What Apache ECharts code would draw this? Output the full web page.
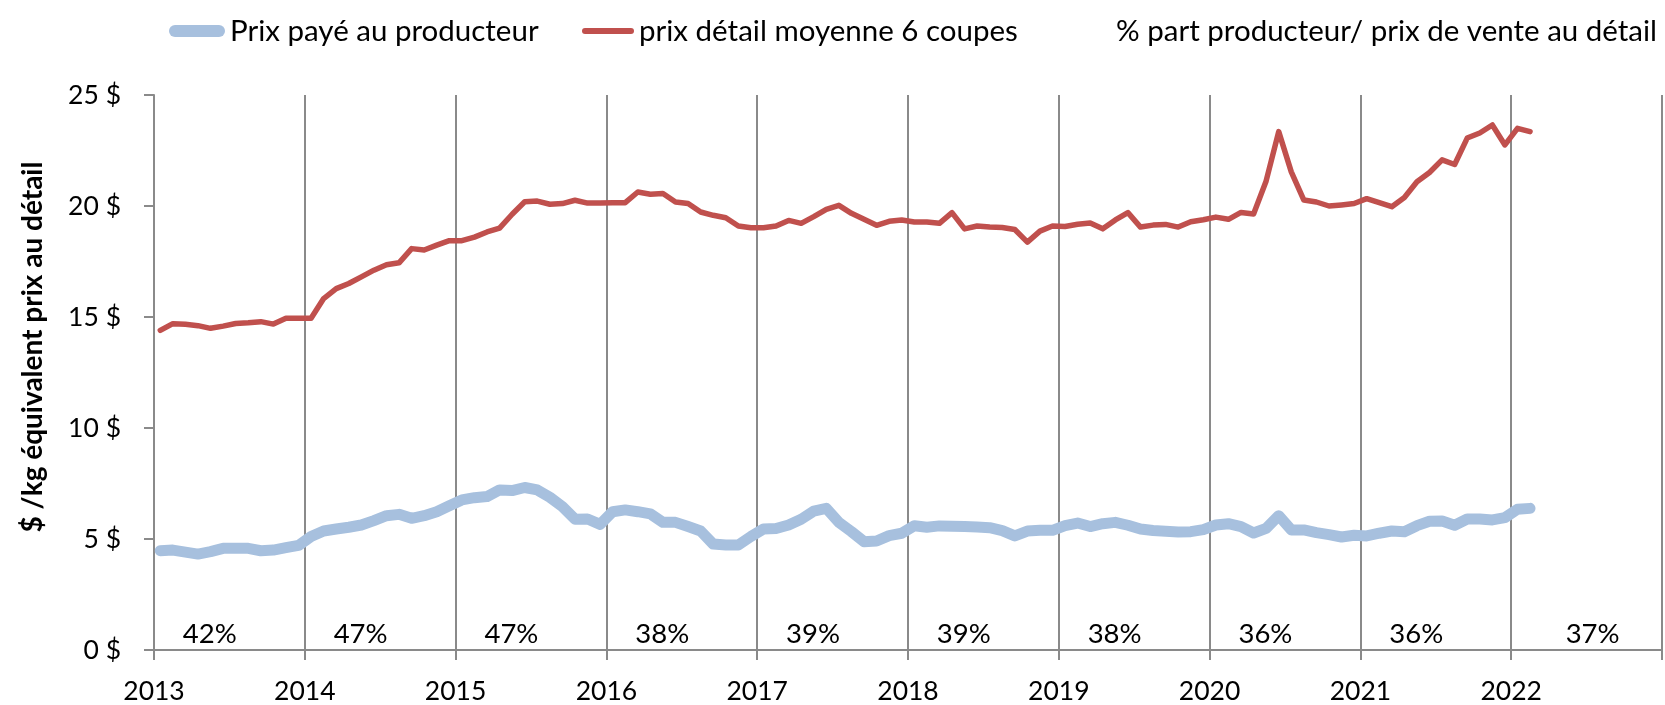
<!DOCTYPE html>
<html>
<head>
<meta charset="utf-8">
<script src="https://cdn.jsdelivr.net/npm/echarts@6/dist/echarts.min.js"></script>
<style>
  html, body { margin: 0; padding: 0; background: #ffffff; }
  #chart { width: 1665px; height: 705px; }
</style>
</head>
<body>
<div id="chart"></div>
<script>
// Monthly series, January 2013 to February 2022 ($ per kg, retail equivalent)
const startYear = 2013;

const producerPrice = [
  4.47, 4.50, 4.41, 4.32, 4.43, 4.58, 4.58, 4.58, 4.47, 4.50, 4.61, 4.71,
  5.11, 5.36, 5.45, 5.53, 5.63, 5.83, 6.05, 6.11, 5.93, 6.05, 6.23, 6.50,
  6.76, 6.86, 6.91, 7.21, 7.18, 7.32, 7.21, 6.88, 6.46, 5.89, 5.90, 5.66,
  6.23, 6.31, 6.23, 6.13, 5.75, 5.75, 5.56, 5.36, 4.77, 4.73, 4.73, 5.11,
  5.45, 5.47, 5.63, 5.89, 6.26, 6.38, 5.75, 5.33, 4.88, 4.91, 5.15, 5.26,
  5.60, 5.53, 5.59, 5.57, 5.56, 5.54, 5.51, 5.38, 5.14, 5.36, 5.39, 5.39,
  5.60, 5.72, 5.56, 5.69, 5.75, 5.62, 5.45, 5.38, 5.35, 5.32, 5.33, 5.42,
  5.63, 5.69, 5.56, 5.27, 5.48, 6.05, 5.41, 5.41, 5.29, 5.20, 5.09, 5.17,
  5.14, 5.26, 5.36, 5.33, 5.60, 5.80, 5.81, 5.62, 5.90, 5.90, 5.86, 5.96,
  6.34, 6.38
];

const retailPrice = [
  14.40, 14.70, 14.67, 14.61, 14.49, 14.59, 14.71, 14.74, 14.79, 14.68, 14.94, 14.94,
  14.94, 15.83, 16.28, 16.51, 16.81, 17.11, 17.35, 17.44, 18.08, 18.02, 18.24, 18.44,
  18.44, 18.60, 18.83, 19.00, 19.63, 20.19, 20.22, 20.08, 20.11, 20.26, 20.13, 20.13,
  20.15, 20.15, 20.63, 20.53, 20.56, 20.18, 20.11, 19.73, 19.58, 19.47, 19.10, 19.02,
  19.02, 19.10, 19.35, 19.22, 19.52, 19.85, 20.03, 19.67, 19.40, 19.13, 19.31, 19.37,
  19.28, 19.28, 19.22, 19.70, 18.97, 19.10, 19.05, 19.03, 18.94, 18.37, 18.87, 19.10,
  19.08, 19.18, 19.23, 18.97, 19.37, 19.70, 19.05, 19.14, 19.17, 19.05, 19.29, 19.38,
  19.50, 19.40, 19.71, 19.64, 21.13, 23.35, 21.54, 20.27, 20.18, 20.00, 20.05, 20.11,
  20.33, 20.15, 19.97, 20.38, 21.09, 21.51, 22.08, 21.87, 23.06, 23.29, 23.65, 22.75,
  23.50, 23.35
];

// Producer share of the retail price, by year
const shareYears = [2013, 2014, 2015, 2016, 2017, 2018, 2019, 2020, 2021, 2022];
const sharePercent = [42, 47, 47, 38, 39, 39, 38, 36, 36, 37];

const seriesNames = [
  'Prix payé au producteur',
  'prix détail moyenne 6 coupes',
  '% part producteur/ prix de vente au détail'
];
const yAxisTitle = '$ /kg équivalent prix au détail';

// ---- presentation ----
const FONT = 'Lato, "Open Sans", sans-serif';
const BLUE = '#A7C0DE';
const RED = '#C0504D';
const GRID_GRAY = '#8A8A8A';

// months are plotted at the middle of each month on a year scale
const monthPos = i => startYear + (i + 0.5) / 12;
const toPoints = arr => arr.map((v, i) => [monthPos(i), v]);

// share labels sit in the lower band of each year (the last, partial year is centred further in)
const shareLevel = 0.72;
const sharePoints = sharePercent.map((p, i) => {
  const y = shareYears[i];
  const offset = y === 2022 ? 0.54 : 0.37;
  return [y + offset, shareLevel, p];
});

const chart = echarts.init(document.getElementById('chart'), null, { renderer: 'canvas' });

const legendText = { fontSize: 29.5, color: '#000', fontFamily: FONT };

chart.setOption({
  animation: false,
  backgroundColor: '#ffffff',
  grid: { left: 154, top: 95, width: 1513, height: 557, containLabel: false },
  legend: [
    {
      left: 164, top: 11, itemWidth: 56, itemHeight: 12, selectedMode: false,
      itemStyle: { borderWidth: 0 },
      textStyle: legendText,
      data: [{ name: seriesNames[0], icon: 'path://M6,0 L50,0 A6,6 0 0 1 50,12 L6,12 A6,6 0 0 1 6,0 Z' }]
    },
    {
      left: 577, top: 11, itemWidth: 52, itemHeight: 6, selectedMode: false,
      itemStyle: { borderWidth: 0 },
      textStyle: legendText,
      data: [{ name: seriesNames[1], icon: 'path://M3,0 L49,0 A3,3 0 0 1 49,6 L3,6 A3,3 0 0 1 3,0 Z' }]
    },
    {
      left: 1105, top: 11, itemWidth: 1, itemHeight: 6, selectedMode: false,
      textStyle: legendText,
      data: [{ name: seriesNames[2], icon: 'none' }]
    }
  ],
  xAxis: {
    type: 'value',
    min: 2013, max: 2023, interval: 1,
    axisLine: { show: true, onZero: true, lineStyle: { color: GRID_GRAY, width: 2 } },
    axisTick: { show: true, length: 10, lineStyle: { color: GRID_GRAY, width: 2 } },
    splitLine: { show: true, lineStyle: { color: GRID_GRAY, width: 2 } },
    axisLabel: {
      formatter: v => (v < 2023 ? String(v) : ''),
      fontSize: 26.5, color: '#000', fontFamily: FONT, margin: 28
    }
  },
  yAxis: {
    type: 'value',
    min: 0, max: 25, interval: 5,
    axisLine: { show: true, onZero: false, lineStyle: { color: GRID_GRAY, width: 2 } },
    axisTick: { show: true, length: 10, lineStyle: { color: GRID_GRAY, width: 2 } },
    splitLine: { show: false },
    axisLabel: {
      formatter: v => v + ' $',
      fontSize: 26.5, color: '#000', fontFamily: FONT, margin: 33
    }
  },
  graphic: [
    {
      type: 'text',
      x: 33, y: 347,
      rotation: Math.PI / 2,
      style: {
        text: yAxisTitle,
        font: 'bold 28px ' + FONT,
        fill: '#000',
        align: 'center',
        verticalAlign: 'middle'
      }
    }
  ],
  series: [
    {
      name: seriesNames[0],
      type: 'line',
      data: toPoints(producerPrice),
      symbol: 'none',
      showSymbol: false,
      itemStyle: { color: BLUE },
      lineStyle: { color: BLUE, width: 11, cap: 'round', join: 'round' },
      z: 3
    },
    {
      name: seriesNames[1],
      type: 'line',
      data: toPoints(retailPrice),
      symbol: 'none',
      showSymbol: false,
      itemStyle: { color: RED },
      lineStyle: { color: RED, width: 5.5, cap: 'round', join: 'round' },
      z: 3
    },
    {
      name: seriesNames[2],
      type: 'scatter',
      data: sharePoints,
      symbolSize: 0,
      itemStyle: { color: '#000000', opacity: 1 },
      label: {
        show: true,
        position: 'inside',
        formatter: p => p.value[2] + '%',
        fontSize: 27.5, color: '#000000', fontFamily: FONT,
        textBorderWidth: 0
      },
      z: 4
    }
  ]
});
</script>
</body>
</html>
